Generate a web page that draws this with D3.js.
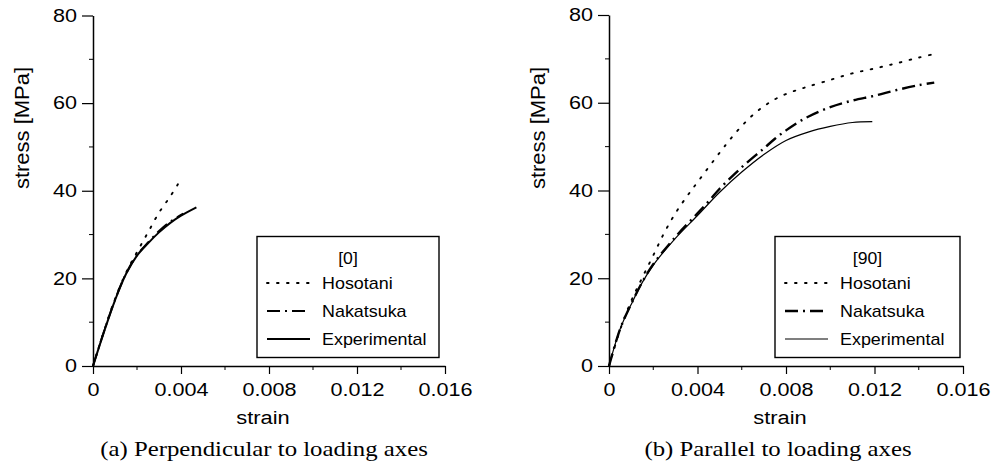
<!DOCTYPE html>
<html>
<head>
<meta charset="utf-8">
<script src="https://cdn.jsdelivr.net/npm/d3@7"></script>
<style>
  body { margin: 0; background: #fff; }
  svg { display: block; }
</style>
</head>
<body>
<div id="chart"></div>
<script>
// tick values shared by both panels
var strainTicks = [0, 0.004, 0.008, 0.012, 0.016];
var stressTicks = [0, 20, 40, 60, 80];
var seriesNames = ["Hosotani", "Nakatsuka", "Experimental"];

// (a) perpendicular, [0]  -- [strain, stress MPa]
var perpHosotani = [[0, 0], [0.0005, 8], [0.001, 15.3], [0.0015, 21.3], [0.002, 26], [0.0025, 30.5], [0.003, 35], [0.0035, 38.6], [0.0039, 41.8]];
var perpNakatsuka = [[0, 0], [0.0005, 7.9], [0.001, 15.1], [0.0015, 21.1], [0.002, 25.3], [0.0025, 28.2], [0.003, 30.8], [0.0035, 32.9], [0.0041, 34.8]];
var perpExperimental = [[0, 0], [0.0005, 7.8], [0.001, 15], [0.0015, 21], [0.002, 25.2], [0.0025, 28], [0.003, 30.5], [0.0035, 32.6], [0.004, 34.3], [0.0047, 36.2]];

// (b) parallel, [90]
var paraHosotani = [[0, 0], [0.0005, 8.2], [0.001, 14.8], [0.0015, 20.1], [0.002, 25.2], [0.0025, 30.4], [0.003, 34.8], [0.0035, 38.5], [0.004, 41.9], [0.005, 48.6], [0.0055, 51.8], [0.006, 54.7], [0.0065, 57.2], [0.007, 59.2], [0.0075, 60.8], [0.008, 62], [0.0085, 62.9], [0.009, 63.7], [0.010, 65.2], [0.011, 66.7], [0.012, 67.8], [0.013, 69], [0.014, 70.3], [0.0147, 71.1]];
var paraNakatsuka = [[0, 0], [0.0005, 8.4], [0.001, 14.1], [0.0015, 19.1], [0.002, 23.2], [0.003, 29.4], [0.004, 34.8], [0.0045, 37.5], [0.005, 40.4], [0.006, 45.3], [0.007, 49.6], [0.0075, 51.8], [0.008, 53.7], [0.0085, 55.4], [0.009, 56.8], [0.010, 59], [0.011, 60.5], [0.012, 61.6], [0.013, 62.9], [0.014, 64], [0.0147, 64.6]];
var paraExperimental = [[0, 0], [0.0005, 8.4], [0.001, 14], [0.0015, 19], [0.002, 23], [0.003, 29.1], [0.004, 34.3], [0.005, 39.6], [0.006, 44.2], [0.007, 48.2], [0.008, 51.4], [0.009, 53.3], [0.010, 54.6], [0.011, 55.5], [0.0119, 55.7]];

var W = 998, H = 470;
var sans = '"Liberation Sans", Arial, Helvetica, sans-serif';
var serif = '"Liberation Serif", "Times New Roman", Times, serif';

var svg = d3.select("#chart").append("svg")
    .attr("width", W)
    .attr("height", H);

// the scanned figure has wide type, so stretch text along its baseline
function stretch(sel, k) {
    sel.each(function() {
        var t = d3.select(this);
        var x = +(t.attr("x") || 0), y = +(t.attr("y") || 0);
        var tr = t.attr("transform") || "";
        t.attr("transform", tr + " translate(" + x + "," + y + ") scale(" + k + ",1)")
            .attr("x", 0).attr("y", 0);
    });
}

var styles = {
    Hosotani: {dash: "1.6,8.4", cap: "round", width: 1.9},
    Nakatsuka: {dash: "13,5,2,5", cap: "butt", width: 2},
    Experimental: {dash: null, cap: "butt", width: 1.8}
};

function drawPanel(p) {
    var x = d3.scaleLinear().domain([0, 0.016]).range([p.x0, p.x1]);
    var y = d3.scaleLinear().domain([0, 80]).range([p.y0, p.y1]);
    var g = svg.append("g");

    // minor ticks
    var xMinor = d3.range(0.002, 0.016, 0.004);
    g.append("g").selectAll("line").data(xMinor).join("line")
        .attr("x1", d => x(d)).attr("x2", d => x(d))
        .attr("y1", p.y0).attr("y2", p.y0 + 4)
        .attr("stroke", "#000").attr("stroke-width", 1);
    var yMinor = [10, 30, 50, 70];
    g.append("g").selectAll("line").data(yMinor).join("line")
        .attr("x1", p.x0 - 4).attr("x2", p.x0)
        .attr("y1", d => y(d)).attr("y2", d => y(d))
        .attr("stroke", "#000").attr("stroke-width", 1);

    var xAxis = g.append("g")
        .attr("transform", "translate(0," + p.y0 + ")")
        .call(d3.axisBottom(x).tickValues(strainTicks)
            .tickFormat(d => d === 0 ? "0" : d3.format(".3f")(d))
            .tickSize(8).tickSizeOuter(0).tickPadding(4));
    var yAxis = g.append("g")
        .attr("transform", "translate(" + p.x0 + ",0)")
        .call(d3.axisLeft(y).tickValues(stressTicks)
            .tickSize(11).tickSizeOuter(0).tickPadding(5));

    [xAxis, yAxis].forEach(function(a) {
        a.select(".domain").attr("stroke-width", 1.5);
        a.selectAll(".tick line").attr("stroke-width", 1.2);
        a.selectAll(".tick text").attr("fill", "#000")
            .style("font-size", "18px").style("font-family", sans);
    });
    xAxis.selectAll(".tick text").attr("dy", "1em");
    stretch(xAxis.selectAll(".tick text"), 1.2);
    stretch(yAxis.selectAll(".tick text"), 1.2);

    // curves
    var line = d3.line().x(d => x(d[0])).y(d => y(d[1])).curve(d3.curveCatmullRom.alpha(0.5));
    p.series.forEach(function(s) {
        var st = styles[s.name];
        g.append("path")
            .datum(s.values)
            .attr("fill", "none")
            .attr("stroke", "#000")
            .attr("stroke-width", s.width || st.width)
            .attr("stroke-dasharray", st.dash)
            .attr("stroke-linecap", st.cap)
            .attr("d", line);
    });

    // axis titles
    var yl = g.append("text")
        .attr("transform", "translate(" + (p.x0 - 64) + ",128) rotate(-90)")
        .attr("text-anchor", "middle")
        .style("font-family", sans).style("font-size", "20px")
        .text("stress [MPa]");
    stretch(yl, 1.1);
    var xl = g.append("text")
        .attr("x", (p.x0 + p.x1) / 2 - 6).attr("y", 424)
        .attr("text-anchor", "middle")
        .style("font-family", sans).style("font-size", "19px")
        .text("strain");
    stretch(xl, 1.15);
    var cap = g.append("text")
        .attr("x", p.capX).attr("y", 456)
        .attr("text-anchor", "middle")
        .style("font-family", serif).style("font-size", "20px")
        .text(p.caption);
    stretch(cap, 1.24);

    // legend
    var lg = g.append("g");
    lg.append("rect")
        .attr("x", p.lx).attr("y", 236.5)
        .attr("width", p.lw).attr("height", 121)
        .attr("fill", "#fff").attr("stroke", "#000").attr("stroke-width", 1.4);
    var lt = lg.append("text")
        .attr("x", p.lx + p.lw / 2).attr("y", 264)
        .attr("text-anchor", "middle")
        .style("font-family", sans).style("font-size", "16px")
        .text(p.title);
    stretch(lt, 1.1);
    p.series.forEach(function(s, i) {
        var st = styles[s.name];
        var yy = 283 + i * 28;
        lg.append("line")
            .attr("x1", p.lx + 10).attr("x2", p.lx + 53)
            .attr("y1", yy).attr("y2", yy)
            .attr("stroke", "#000")
            .attr("stroke-width", s.width || st.width)
            .attr("stroke-dasharray", st.dash)
            .attr("stroke-linecap", st.cap);
        var tx = lg.append("text")
            .attr("x", p.lx + 65).attr("y", yy + 6)
            .style("font-family", sans).style("font-size", "16px")
            .text(s.name);
        stretch(tx, 1.12);
    });
}

drawPanel({
    x0: 93, x1: 445, y0: 366, y1: 15.5,
    title: "[0]", lx: 257, lw: 182, capX: 264,
    caption: "(a) Perpendicular to loading axes",
    series: [
        {name: seriesNames[0], values: perpHosotani},
        {name: seriesNames[1], values: perpNakatsuka},
        {name: seriesNames[2], values: perpExperimental, width: 2}
    ]
});

drawPanel({
    x0: 609, x1: 963, y0: 366, y1: 15,
    title: "[90]", lx: 775, lw: 185, capX: 778,
    caption: "(b) Parallel to loading axes",
    series: [
        {name: seriesNames[0], values: paraHosotani},
        {name: seriesNames[1], values: paraNakatsuka, width: 2.4},
        {name: seriesNames[2], values: paraExperimental, width: 1.2}
    ]
});
</script>
</body>
</html>
